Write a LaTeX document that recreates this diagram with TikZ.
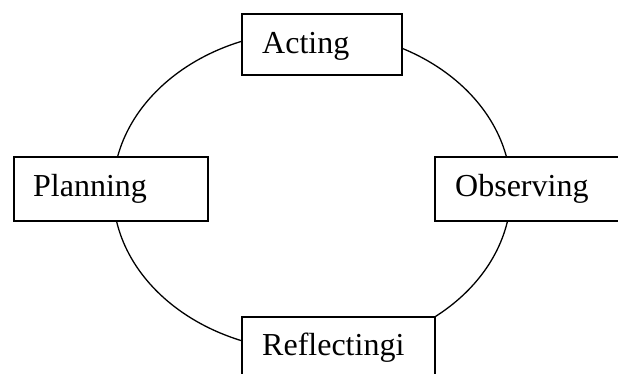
\documentclass[tikz,border=0pt]{standalone}
\usepackage{fontspec}
\setmainfont{Liberation Serif}
\begin{document}
\begin{tikzpicture}[x=1pt,y=-1pt,
  box/.style={draw,line width=1.6pt,fill=white,rectangle,inner sep=0pt,anchor=north west},
  lbl/.style={anchor=base west,inner sep=0pt,font=\fontsize{32}{38}\selectfont},
  cyc/.style={line width=1.3pt}]
\useasboundingbox (0,0) rectangle (618,373);
\clip (0,0) rectangle (618,373);
\draw[cyc] (312,191) ellipse [x radius=199, y radius=160];
\node[box,minimum width=160pt,minimum height=61pt] (acting) at (241,13) {};
\node[box,minimum width=194pt,minimum height=64pt] (planning) at (13,156) {};
\node[box,minimum width=200pt,minimum height=64pt] (observing) at (434,156) {};
\node[box,minimum width=193pt,minimum height=80pt] (reflecting) at (241,316) {};
\node[lbl] (tacting) at (262,53) {Acting};
\node[lbl] (tplanning) at (33,196) {Planning};
\node[lbl] (tobserving) at (455,196) {Observing};
\node[lbl] (treflecting) at (262,355) {Reflectingi};
\end{tikzpicture}
\end{document}
